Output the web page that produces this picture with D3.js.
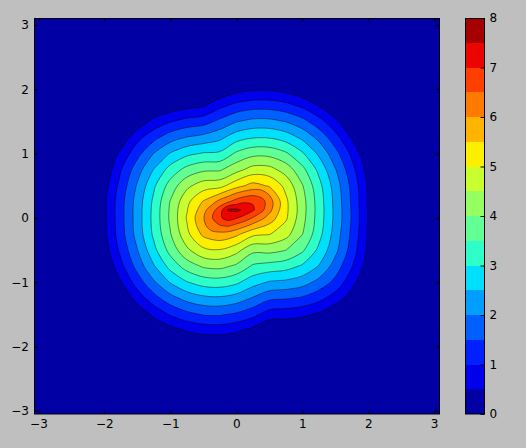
<!DOCTYPE html>
<html>
<head>
<meta charset="utf-8">
<script src="https://cdn.jsdelivr.net/npm/d3@7"></script>
<style>
  body { margin: 0; background: #bfbfbf; }
  svg { display: block; font-family: "DejaVu Sans", sans-serif; font-size: 12px; }
</style>
</head>
<body>
<div id="chart"></div>
<script>
const gridX = [-2.25, -2, -1.75, -1.5, -1.25, -1, -0.75, -0.5, -0.25, 0, 0.25, 0.5, 0.75, 1, 1.25, 1.5, 1.75, 2, 2.25];
const gridY = [2.25, 2, 1.75, 1.5, 1.25, 1, 0.75, 0.5, 0.25, 0, -0.25, -0.5, -0.75, -1, -1.25, -1.5, -1.75, -2, -2.25];

const density = [
  [0, 0, 0, 0, 0, 0, 0, 0, 0, 0, 0, 0, 0, 0, 0, 0, 0, 0, 0],
  [0, 0, 0, 0, 0, 0, 0, 0, 0.05, 0.30, 0.42, 0.43, 0.32, 0.09, 0, 0, 0, 0, 0],
  [0, 0, 0, 0, 0, 0.15, 0.32, 0.43, 0.85, 1.14, 1.28, 1.28, 1.15, 0.88, 0.47, 0, 0, 0, 0],
  [0, 0, 0, 0.17, 0.64, 0.97, 1.18, 1.29, 1.63, 1.97, 2.14, 2.14, 1.98, 1.67, 1.20, 0.63, 0, 0, 0],
  [0, 0, 0.16, 0.83, 1.35, 1.78, 2.03, 2.17, 2.38, 2.79, 2.97, 2.97, 2.78, 2.40, 1.86, 1.20, 0.45, 0, 0],
  [0, 0, 0.62, 1.34, 2.02, 2.54, 2.88, 3.05, 3.09, 3.59, 3.85, 3.84, 3.58, 3.07, 2.42, 1.68, 0.89, 0.05, 0],
  [0, 0.11, 0.97, 1.78, 2.53, 3.20, 3.67, 3.91, 3.94, 4.33, 4.70, 4.68, 4.29, 3.65, 2.88, 2.04, 1.18, 0.28, 0],
  [0, 0.29, 1.18, 2.06, 2.92, 3.71, 4.38, 4.76, 4.83, 5.33, 5.68, 5.45, 4.86, 4.04, 3.17, 2.27, 1.37, 0.42, 0],
  [0, 0.40, 1.31, 2.22, 3.11, 4.03, 4.87, 5.55, 6.19, 6.74, 6.99, 6.27, 5.12, 4.20, 3.28, 2.35, 1.43, 0.45, 0],
  [0, 0.39, 1.32, 2.24, 3.16, 4.09, 5.04, 5.96, 6.92, 7.04, 6.47, 5.78, 5.08, 4.18, 3.28, 2.37, 1.46, 0.46, 0],
  [0, 0.37, 1.29, 2.20, 3.10, 3.97, 4.87, 5.62, 5.86, 5.63, 5.13, 5.03, 4.69, 4.02, 3.18, 2.29, 1.39, 0.44, 0],
  [0, 0.24, 1.13, 1.98, 2.86, 3.68, 4.40, 4.89, 4.97, 4.67, 4.13, 4.16, 4.01, 3.59, 2.89, 2.14, 1.28, 0.38, 0],
  [0, 0.01, 0.86, 1.69, 2.46, 3.17, 3.73, 4.07, 4.14, 3.91, 3.43, 3.31, 3.21, 2.93, 2.48, 1.78, 1.04, 0.24, 0],
  [0, 0, 0.47, 1.23, 1.93, 2.54, 2.97, 3.22, 3.27, 3.10, 2.71, 2.45, 2.38, 2.22, 1.84, 1.36, 0.67, 0, 0],
  [0, 0, 0.01, 0.70, 1.30, 1.81, 2.17, 2.37, 2.41, 2.27, 1.95, 1.60, 1.54, 1.42, 1.15, 0.75, 0.25, 0, 0],
  [0, 0, 0, 0.09, 0.62, 1.05, 1.35, 1.54, 1.56, 1.42, 1.16, 0.75, 0.70, 0.60, 0.43, 0.07, 0, 0, 0],
  [0, 0, 0, 0, 0, 0.27, 0.53, 0.66, 0.67, 0.57, 0.34, 0, 0, 0, 0, 0, 0, 0, 0],
  [0, 0, 0, 0, 0, 0, 0, 0, 0, 0, 0, 0, 0, 0, 0, 0, 0, 0, 0],
  [0, 0, 0, 0, 0, 0, 0, 0, 0, 0, 0, 0, 0, 0, 0, 0, 0, 0, 0]
];

// the peak, sampled every 0.125
const coreX = [-0.75, -0.625, -0.5, -0.375, -0.25, -0.125, 0, 0.125, 0.25, 0.375, 0.5, 0.625, 0.75, 0.875, 1];
const coreY = [0.625, 0.5, 0.375, 0.25, 0.125, 0, -0.125, -0.25, -0.375];

const coreDensity = [
  [4.03, 4.23, 4.34, 4.38, 4.38, 4.37, 4.67, 4.95, 5.12, 5.17, 5.09, 4.89, 4.61, 4.26, 3.87],
  [4.38, 4.61, 4.76, 4.82, 4.83, 5.08, 5.33, 5.54, 5.68, 5.68, 5.45, 5.22, 4.86, 4.47, 4.04],
  [4.66, 4.96, 5.18, 5.27, 5.53, 5.79, 6.07, 6.25, 6.37, 6.30, 5.95, 5.47, 5.04, 4.60, 4.15],
  [4.87, 5.25, 5.55, 5.80, 6.19, 6.45, 6.74, 6.95, 6.96, 6.73, 6.27, 5.67, 5.12, 4.65, 4.20],
  [4.99, 5.42, 5.83, 6.28, 6.76, 7.55, 7.60, 7.41, 7.08, 6.66, 6.18, 5.60, 5.13, 4.67, 4.21],
  [5.04, 5.50, 5.96, 6.45, 6.92, 7.21, 7.04, 6.79, 6.47, 6.16, 5.78, 5.47, 5.08, 4.63, 4.18],
  [5.01, 5.46, 5.87, 6.23, 6.45, 6.54, 6.33, 6.09, 5.82, 5.53, 5.41, 5.24, 4.93, 4.55, 4.12],
  [4.87, 5.27, 5.62, 5.85, 5.86, 5.80, 5.63, 5.38, 5.13, 5.03, 5.03, 4.89, 4.69, 4.37, 4.02],
  [4.67, 5.03, 5.28, 5.43, 5.43, 5.29, 5.03, 4.69, 4.55, 4.58, 4.57, 4.51, 4.36, 4.14, 3.81]
];

const levels = [0, 0.5, 1, 1.5, 2, 2.5, 3, 3.5, 4, 4.5, 5, 5.5, 6, 6.5, 7, 7.5, 8];
const coreFrom = 6; // levels at or above this come from the finer core samples

const xTicks = [-3, -2, -1, 0, 1, 2, 3];
const xTickLabels = ["\u22123", "\u22122", "\u22121", "0", "1", "2", "3"];
const yTicks = [-3, -2, -1, 0, 1, 2, 3];
const yTickLabels = ["\u22123", "\u22122", "\u22121", "0", "1", "2", "3"];
const barTicks = [0, 1, 2, 3, 4, 5, 6, 7, 8];
const barTickLabels = ["0", "1", "2", "3", "4", "5", "6", "7", "8"];


const width = 526, height = 448;
const plot = { left: 34, top: 18, right: 439, bottom: 414 };
const bar = { left: 465, right: 484 };

// classic jet colormap
const jetR = d3.scaleLinear().domain([0, 0.35, 0.66, 0.89, 1]).range([0, 0, 1, 1, 0.5]);
const jetG = d3.scaleLinear().domain([0, 0.125, 0.375, 0.64, 0.91, 1]).range([0, 0, 1, 1, 0, 0]);
const jetB = d3.scaleLinear().domain([0, 0.11, 0.34, 0.65, 1]).range([0.5, 1, 1, 0, 0]);
const jet = t => d3.rgb(jetR(t) * 255, jetG(t) * 255, jetB(t) * 255).formatHex();

const vmax = levels[levels.length - 1];
const bandColor = i => jet((levels[i] + levels[i + 1]) / 2 / vmax);

const x = d3.scaleLinear().domain([-3.067, 3.073]).range([plot.left, plot.right]);
const y = d3.scaleLinear().domain([-3.05, 3.11]).range([plot.bottom, plot.top]);

const svg = d3.select("#chart").append("svg")
  .attr("width", width)
  .attr("height", height);

svg.append("rect")
  .attr("width", width)
  .attr("height", height)
  .attr("fill", "#bfbfbf");

svg.append("clipPath").attr("id", "plot-clip")
  .append("rect")
  .attr("x", plot.left).attr("y", plot.top)
  .attr("width", plot.right - plot.left).attr("height", plot.bottom - plot.top);

const plotLayer = svg.append("g").attr("clip-path", "url(#plot-clip)");

// lowest band fills the whole axes
plotLayer.append("rect")
  .attr("x", plot.left).attr("y", plot.top)
  .attr("width", plot.right - plot.left).attr("height", plot.bottom - plot.top)
  .attr("fill", bandColor(0));

// grid index -> data -> screen (d3.contours puts sample i at i + 0.5),
// every ring drawn as a smooth closed curve
const ringLine = d3.line().curve(d3.curveCatmullRomClosed.alpha(0.5));

function fieldPath(xs, ys) {
  const gx = d3.scaleLinear().domain([0.5, xs.length - 0.5]).range([xs[0], xs[xs.length - 1]]);
  const gy = d3.scaleLinear().domain([0.5, ys.length - 0.5]).range([ys[0], ys[ys.length - 1]]);
  return d => d.coordinates
    .map(polygon => polygon
      .map(ring => ringLine(ring.slice(0, -1).map(p => [x(gx(p[0])), y(gy(p[1]))])))
      .join(""))
    .join("");
}

function fieldContours(values, xs, ys, thresholds) {
  return d3.contours()
    .size([xs.length, ys.length])
    .thresholds(thresholds)(values.flat());
}

const outerLevels = levels.filter(v => v > 0 && v < coreFrom);
const innerLevels = levels.filter(v => v >= coreFrom && v < vmax);

const layers = [
  { contours: fieldContours(density, gridX, gridY, outerLevels), path: fieldPath(gridX, gridY) },
  { contours: fieldContours(coreDensity, coreX, coreY, innerLevels), path: fieldPath(coreX, coreY) }
];

layers.forEach(layer => {
  plotLayer.append("g").selectAll("path")
    .data(layer.contours)
    .enter().append("path")
    .attr("d", layer.path)
    .attr("fill-rule", "evenodd")
    .attr("fill", d => bandColor(levels.indexOf(d.value)));
});

layers.forEach(layer => {
  plotLayer.append("g").selectAll("path")
    .data(layer.contours)
    .enter().append("path")
    .attr("d", layer.path)
    .attr("fill", "none")
    .attr("stroke", "#000")
    .attr("stroke-opacity", 0.75)
    .attr("stroke-width", 0.6);
});

// axes, ticks inside on all four sides
const styleAxis = g => {
  g.select(".domain").remove();
  g.selectAll("line").attr("stroke", "#000");
  g.selectAll("text").attr("fill", "#000").attr("font-size", 12).attr("font-family", "DejaVu Sans, sans-serif");
};

svg.append("g")
  .attr("transform", `translate(0,${plot.bottom})`)
  .call(d3.axisBottom(x).tickValues(xTicks).tickSize(-4).tickPadding(5)
    .tickFormat((d, i) => xTickLabels[i]))
  .call(styleAxis);

svg.append("g")
  .attr("transform", `translate(0,${plot.top})`)
  .call(d3.axisTop(x).tickValues(xTicks).tickSize(-4).tickFormat(""))
  .call(styleAxis);

svg.append("g")
  .attr("transform", `translate(${plot.left},0)`)
  .call(d3.axisLeft(y).tickValues(yTicks).tickSize(-4).tickPadding(5)
    .tickFormat((d, i) => yTickLabels[i]))
  .call(styleAxis);

svg.append("g")
  .attr("transform", `translate(${plot.right},0)`)
  .call(d3.axisRight(y).tickValues(yTicks).tickSize(-4).tickFormat(""))
  .call(styleAxis);

svg.append("rect")
  .attr("x", plot.left + 0.5).attr("y", plot.top + 0.5)
  .attr("width", plot.right - plot.left).attr("height", plot.bottom - plot.top - 0.5)
  .attr("fill", "none")
  .attr("stroke", "#000");

// colorbar
const yBar = d3.scaleLinear().domain([levels[0], vmax]).range([plot.bottom, plot.top]);

svg.append("g").selectAll("rect")
  .data(d3.range(levels.length - 1))
  .enter().append("rect")
  .attr("x", bar.left)
  .attr("y", i => yBar(levels[i + 1]))
  .attr("width", bar.right - bar.left)
  .attr("height", i => yBar(levels[i]) - yBar(levels[i + 1]))
  .attr("fill", i => bandColor(i))
  .attr("shape-rendering", "crispEdges");

svg.append("g")
  .attr("transform", `translate(${bar.right + 0.5},0)`)
  .call(d3.axisRight(yBar).tickValues(barTicks).tickSize(-4).tickPadding(5)
    .tickFormat((d, i) => barTickLabels[i]))
  .call(styleAxis);

svg.append("rect")
  .attr("x", bar.left + 0.5).attr("y", plot.top + 0.5)
  .attr("width", bar.right - bar.left).attr("height", plot.bottom - plot.top - 0.5)
  .attr("fill", "none")
  .attr("stroke", "#000");
</script>
</body>
</html>
